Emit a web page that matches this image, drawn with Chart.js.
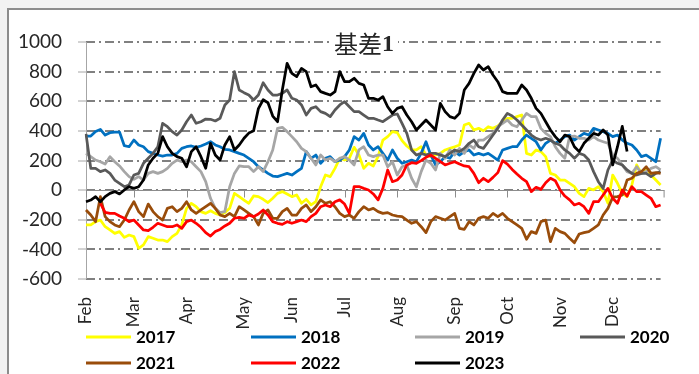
<!DOCTYPE html>
<html lang="zh-CN">
<head>
<meta charset="UTF-8">
<title>基差1</title>
<script src="https://cdn.jsdelivr.net/npm/chart.js@4"></script>
<style>
  html, body { margin: 0; padding: 0; background: #f2f2f2; overflow: hidden; }
  .frame {
    position: absolute; left: 7px; top: 8px; width: 720px; height: 400px;
    background: #fff; border: 2px solid #8c8c8c;
  }
  #chart { position: absolute; left: 0; top: 0; }
</style>
</head>
<body>
<div class="frame"></div>
<canvas id="chart" width="699" height="374"></canvas>
<script>
// trading-day axis, about one point every couple of sessions from Feb to late Dec
const POINTS = 121;
const monthNames = ['Feb', 'Mar', 'Apr', 'May', 'Jun', 'Jul', 'Aug', 'Sep', 'Oct', 'Nov', 'Dec'];
const monthStart = [0, 10, 21, 33, 43, 54, 65, 77, 88, 99, 110];

const years = ['2017', '2018', '2019', '2020', '2021', '2022', '2023'];
const colors = ['#ffff00', '#0070c0', '#a6a6a6', '#595959', '#994c0a', '#ff0000', '#000000'];

const yTicks = [-600, -400, -200, 0, 200, 400, 600, 800, 1000];

const s2017 = [-235,-235,-213,-202,-247,-269,-292,-280,-319,-303,-314,-393,-370,-314,-325,-337,-337,-348,-314,-292,
  -235,-123,-89,-112,-145,-157,-139,-157,-168,-152,-123,-22,-44,-67,-89,-39,-44,-62,-84,-55,
  -22,-10,-26,-44,-33,-89,-62,-100,-78,23,102,91,147,215,203,215,289,237,147,181,
  163,226,338,361,395,388,334,298,271,271,293,237,226,237,248,271,282,293,305,440,
  451,406,417,401,428,417,433,462,485,485,496,507,248,237,271,260,226,113,102,68,
  68,46,23,-22,-44,12,1,23,-10,-89,102,46,-22,-44,35,170,113,147,102,68,35];

const s2018 = [365,365,395,410,372,388,392,392,300,293,338,305,293,260,248,237,230,237,237,248,
  282,293,298,289,298,311,327,305,293,275,271,260,248,237,215,192,158,136,113,95,
  91,102,113,102,125,147,260,215,237,181,215,226,192,203,226,271,361,338,383,305,
  271,293,248,203,271,215,181,192,203,192,248,327,237,170,192,226,215,260,237,260,
  271,237,248,237,248,226,203,271,282,293,293,338,372,350,327,271,316,338,316,338,
  361,372,338,361,383,372,417,406,395,383,361,372,338,316,305,271,226,237,215,192,350];

const s2019 = [248,226,203,192,176,226,192,163,125,91,73,91,68,113,125,113,125,147,181,203,
  192,203,192,158,125,57,-55,-123,-152,-145,23,113,163,158,158,125,158,125,192,271,
  417,424,395,361,327,282,260,215,170,237,203,215,192,215,226,203,170,271,293,237,
  226,237,237,158,192,102,158,170,80,23,125,203,181,136,248,215,271,237,282,248,
  305,282,338,338,361,383,428,451,473,440,428,473,518,496,496,417,383,361,293,248,
  215,361,365,350,350,338,361,338,327,316,237,215,170,125,113,158,113,125,147,158,136];

const s2020 = [380,147,147,125,136,113,68,46,23,35,102,113,181,215,248,293,451,428,395,372,
  406,462,507,451,462,480,478,467,485,575,608,800,676,658,642,608,642,725,676,642,
  642,653,676,620,608,575,507,552,563,530,518,496,541,575,597,563,530,530,507,485,
  485,473,462,485,507,514,451,383,271,237,248,237,248,248,237,226,248,271,260,282,
  316,338,293,282,327,372,417,473,518,500,473,440,406,372,350,338,350,338,316,305,
  271,248,215,248,237,203,125,57,12,136,203,181,170,136,113,102,113,113,91,113,125];

const s2021 = [-134,-168,-213,-44,-179,-213,-235,-247,-202,-134,-78,-145,-179,-94,-145,-179,-202,-123,-112,-145,
  -123,-78,-134,-157,-134,-112,-89,-123,-168,-179,-157,-179,-112,-134,-157,-179,-235,-157,-134,-190,
  -190,-145,-123,-168,-168,-123,-100,-145,-112,-66,-89,-78,-112,-157,-179,-168,-190,-145,-112,-134,
  -123,-145,-157,-152,-168,-175,-179,-202,-224,-213,-247,-287,-213,-179,-190,-202,-179,-157,-258,-265,
  -213,-235,-190,-179,-190,-157,-179,-157,-190,-213,-235,-258,-332,-280,-292,-213,-202,-348,-258,-280,
  -292,-325,-355,-296,-287,-280,-258,-235,-168,-123,-48,-44,-33,68,80,113,125,158,113,118,113];

const s2022 = [null,null,null,-90,-150,-157,-157,-175,-190,-213,-202,-235,-269,-274,-251,-224,-235,-247,-247,-235,
  -258,-213,-202,-224,-251,-287,-310,-280,-265,-242,-224,-190,-184,-190,-168,-179,-161,-134,-168,-213,
  -224,-231,-213,-224,-213,-202,-213,-179,-157,-112,-100,-112,-78,-66,-94,-157,24,24,12,1,
  -26,-66,12,136,57,68,102,170,185,181,199,221,237,215,192,170,181,192,176,163,
  158,113,50,80,57,86,118,199,176,140,109,80,57,-10,19,5,50,80,64,1,
  -40,-66,-100,-89,-112,-157,-78,-78,-33,12,-55,-89,1,-40,23,-10,-10,-33,-55,-112,-100];

const s2023 = [-78,-67,-44,-78,-44,-22,-10,-26,1,23,12,23,68,170,215,248,361,293,248,226,
  215,158,260,293,226,147,316,237,203,305,361,271,305,350,385,400,550,610,590,500,
  462,676,856,788,766,822,800,698,710,665,653,642,665,800,732,732,755,721,710,620,
  620,608,631,563,518,552,563,507,462,406,440,473,440,406,586,530,496,485,518,676,
  721,788,845,811,833,777,732,665,653,653,653,710,676,620,552,518,462,406,361,327,
  372,361,293,260,316,350,383,372,406,372,170,293,430,260,null,null,null,null,null,null,null];

const series = [s2017, s2018, s2019, s2020, s2021, s2022, s2023];

const labels = new Array(POINTS).fill('');
monthStart.forEach((idx, k) => { labels[idx] = monthNames[k]; });

const FONT = 'Lato, "Liberation Sans", sans-serif';
const TEXT = '#262626';

// axis line, solid zero line with its tick marks
const axisLines = {
  id: 'axisLines',
  beforeDatasetsDraw(chart) {
    const { ctx, chartArea: a, scales: { x, y } } = chart;
    const y0 = Math.round(y.getPixelForValue(0)) + 0.5;
    ctx.save();
    ctx.strokeStyle = '#a6a6a6';
    ctx.lineWidth = 1;
    ctx.beginPath();
    ctx.moveTo(a.left + 0.5, a.top);
    ctx.lineTo(a.left + 0.5, a.bottom);
    ctx.stroke();
    ctx.strokeStyle = '#8c8c8c';
    ctx.beginPath();
    ctx.moveTo(a.left, y0);
    ctx.lineTo(a.right + 4, y0);
    monthStart.forEach(idx => {
      const px = Math.round(x.getPixelForValue(idx)) + 0.5;
      ctx.moveTo(px, y0);
      ctx.lineTo(px, y0 + 7);
    });
    ctx.moveTo(a.right + 3.5, y0);
    ctx.lineTo(a.right + 3.5, y0 + 7);
    ctx.stroke();
    ctx.restore();
  }
};

// title and the two-row legend underneath
const titleLegend = {
  id: 'titleLegend',
  afterDraw(chart) {
    const { ctx } = chart;
    ctx.save();
    const cjk = '24px "Noto Sans CJK SC", sans-serif';
    const num = 'bold 24px "Liberation Serif", serif';
    ctx.font = cjk;
    const w1 = ctx.measureText('基差').width;
    ctx.font = num;
    const w2 = ctx.measureText('1').width;
    const cx = 364, cy = 44;
    const left = cx - (w1 + w2) / 2;
    ctx.fillStyle = '#fff';
    ctx.fillRect(left - 4, cy - 14, w1 + w2 + 8, 28);
    ctx.fillStyle = TEXT;
    ctx.textBaseline = 'middle';
    ctx.font = cjk;
    ctx.fillText('基差', left, cy);
    ctx.font = num;
    ctx.fillText('1', left + w1, cy + 1);

    const slots = [[86, 337], [251, 337], [415, 337], [580, 337], [86, 363], [251, 363], [415, 363]];
    ctx.font = 'bold 17px ' + FONT;
    chart.data.datasets.forEach((ds, i) => {
      const [lx, ly] = slots[i];
      ctx.strokeStyle = ds.borderColor;
      ctx.lineWidth = 3;
      ctx.beginPath();
      ctx.moveTo(lx, ly);
      ctx.lineTo(lx + 45, ly);
      ctx.stroke();
      ctx.fillStyle = '#000';
      ctx.fillText(ds.label, lx + 50, ly + 1);
    });
    ctx.restore();
  }
};

new Chart(document.getElementById('chart'), {
  type: 'line',
  data: {
    labels,
    datasets: years.map((yr, i) => ({
      label: yr,
      data: series[i],
      borderColor: colors[i],
      borderWidth: 2.75,
      pointRadius: 0,
      tension: 0,
      borderJoinStyle: 'round',
      spanGaps: false,
      order: years.length - i
    }))
  },
  options: {
    responsive: false,
    animation: false,
    layout: { padding: { left: 0, right: 11, top: 42, bottom: 0 } },
    plugins: { legend: { display: false }, title: { display: false }, tooltip: { enabled: false } },
    scales: {
      x: {
        grid: { display: false, drawTicks: false },
        border: { display: false },
        ticks: {
          autoSkip: false, minRotation: 90, maxRotation: 90, padding: 18,
          color: TEXT, font: { family: FONT, size: 17 }
        },
        afterFit(s) { s.height = 95; }
      },
      y: {
        min: yTicks[0],
        max: yTicks[yTicks.length - 1],
        afterBuildTicks(s) { s.ticks = yTicks.map(v => ({ value: v })); },
        ticks: {
          padding: 16, color: TEXT, font: { family: FONT, size: 19 },
          callback: v => String(v)
        },
        grid: { color: '#808080', lineWidth: 2, tickLength: 8, tickColor: '#a6a6a6', tickWidth: 1, tickBorderDash: [] },
        border: { display: false, dash: [9, 4, 2, 4] },
        afterFit(s) { s.width = 86; }
      }
    }
  },
  plugins: [axisLines, titleLegend]
});
</script>
</body>
</html>
